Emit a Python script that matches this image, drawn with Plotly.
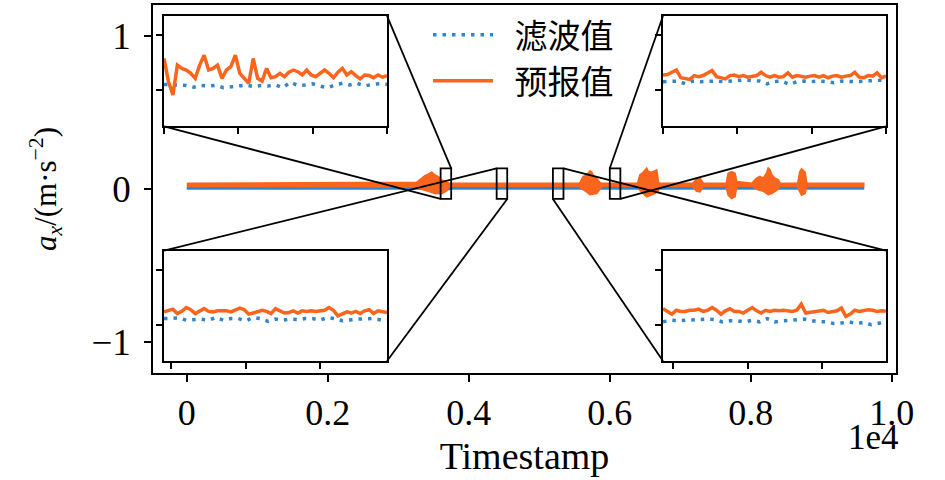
import plotly.graph_objects as go

# ---------------- data ----------------
# main-view envelope of the predicted signal (预报值): upper and lower edges
PRED_HI_T = [0, 3260, 3331, 3378, 3425, 3473, 3520, 3567, 3615, 3686, 3720,
             5560, 5577, 5624, 5672, 5719, 5742, 5766, 5813, 5860, 5880,
             6390, 6404, 6428, 6475, 6523, 6546, 6593, 6640, 6664, 6687, 6700,
             7170, 7184, 7232, 7279, 7326,
             7650, 7658, 7681, 7728, 7775, 7799,
             8020, 8035, 8083, 8130, 8177, 8225, 8248, 8272, 8296, 8343, 8390, 8414,
             8660, 8673, 8697, 8721, 8768, 8792,
             9600]
PRED_HI = [0.036, 0.043, 0.069, 0.086, 0.095, 0.108, 0.091, 0.080, 0.058, 0.045, 0.036,
           0.036, 0.040, 0.080, 0.091, 0.117, 0.108, 0.086, 0.069, 0.040, 0.036,
           0.036, 0.047, 0.091, 0.108, 0.134, 0.112, 0.108, 0.117, 0.123, 0.047, 0.036,
           0.036, 0.040, 0.064, 0.069, 0.036,
           0.036, 0.047, 0.102, 0.112, 0.102, 0.047,
           0.036, 0.047, 0.069, 0.080, 0.069, 0.102, 0.134, 0.123, 0.091, 0.069, 0.058, 0.036,
           0.036, 0.047, 0.112, 0.130, 0.108, 0.036,
           0.036]
PRED_LO_T = [0, 3260, 3331, 3425, 3520, 3615, 3686, 3720,
             5560, 5600, 5672, 5719, 5813, 5860, 5880,
             6390, 6428, 6475, 6523, 6593, 6640, 6687, 6700,
             7170, 7232, 7279, 7326,
             7650, 7681, 7728, 7775, 7799,
             8020, 8083, 8177, 8248, 8296, 8370, 8414,
             8660, 8697, 8721, 8768, 8792,
             9600]
PRED_LO = [0.020, 0.015, 0.000, -0.013, -0.028, -0.030, -0.010, 0.020,
           0.020, 0.004, -0.017, -0.035, -0.028, 0.000, 0.020,
           0.020, -0.007, -0.028, -0.050, -0.039, -0.028, -0.013, 0.020,
           0.020, -0.013, -0.017, 0.020,
           0.020, -0.039, -0.061, -0.050, 0.020,
           0.020, 0.000, -0.013, -0.035, -0.028, -0.007, 0.020,
           0.020, -0.017, -0.039, -0.028, 0.020,
           0.020]
# main-view envelope of the filtered signal (滤波值)
FILT_T = [0, 3300, 3650, 3750, 9600]
FILT_HI = [0.010, 0.010, 0.008, 0.010, 0.010]
FILT_LO = [0.000, 0.000, -0.010, 0.000, 0.000]

# zoom windows (start timestamps, width 150)
ZOOM_W = 150
TL_START, BL_START, BR_START, TR_START = 3600, 4395, 5193, 6000

TL_PRED = [0.058, 0.016, -0.008, 0.046, 0.040, 0.037, 0.031, 0.022, 0.046, 0.064,
           0.037, 0.040, 0.046, 0.022, 0.037, 0.043, 0.064, 0.031, 0.022, 0.013,
           0.058, 0.022, 0.017, 0.040, 0.023, 0.025, 0.031, 0.025, 0.033, 0.037,
           0.034, 0.028, 0.037, 0.028, 0.025, 0.032, 0.037, 0.031, 0.023, 0.033,
           0.040, 0.028, 0.034, 0.027, 0.021, 0.028, 0.027, 0.023, 0.028, 0.024, 0.027]
TL_FILT = [0.011, 0.010, 0.010, 0.009, 0.006, 0.009, 0.008, 0.009, 0.005, 0.006,
           0.008, 0.010, 0.007, 0.009, 0.008, 0.010, 0.005, 0.015, 0.009, 0.010,
           0.012, 0.008, 0.005, 0.010, 0.013, 0.010, 0.013, 0.008, 0.011, 0.012, 0.011]

BL_PRED = [0.024, 0.026, 0.029, 0.021, 0.025, 0.032, 0.028, 0.021, 0.026, 0.030,
           0.025, 0.024, 0.026, 0.026, 0.026, 0.024, 0.027, 0.031, 0.028, 0.020,
           0.022, 0.024, 0.027, 0.025, 0.021, 0.030, 0.026, 0.022, 0.023, 0.026,
           0.022, 0.026, 0.025, 0.026, 0.025, 0.026, 0.027, 0.032, 0.027, 0.017,
           0.021, 0.024, 0.022, 0.025, 0.021, 0.026, 0.028, 0.021, 0.026, 0.025, 0.023]
BL_FILT = [0.012, 0.012, 0.013, 0.009, 0.010, 0.011, 0.009, 0.014, 0.009, 0.012,
           0.012, 0.008, 0.014, 0.012, 0.007, 0.011, 0.009, 0.011, 0.010, 0.012,
           0.012, 0.009, 0.014, 0.012, 0.008, 0.010, 0.011, 0.011, 0.012, 0.010, 0.009]

BR_PRED = [0.030, 0.025, 0.020, 0.027, 0.025, 0.025, 0.027, 0.027, 0.029, 0.025,
           0.027, 0.032, 0.027, 0.020, 0.026, 0.030, 0.025, 0.025, 0.022, 0.027,
           0.032, 0.026, 0.022, 0.027, 0.025, 0.027, 0.026, 0.027, 0.026, 0.025,
           0.027, 0.038, 0.022, 0.023, 0.025, 0.025, 0.027, 0.023, 0.024, 0.026,
           0.031, 0.016, 0.020, 0.027, 0.025, 0.027, 0.028, 0.027, 0.025, 0.026, 0.025]
BR_FILT = [0.006, 0.009, 0.008, 0.009, 0.009, 0.010, 0.011, 0.010, 0.006, 0.008,
           0.008, 0.006, 0.009, 0.006, 0.012, 0.006, 0.008, 0.009, 0.010, 0.011,
           0.008, 0.006, 0.006, 0.003, 0.004, 0.006, 0.003, 0.005, 0.001, 0.003, 0.006]

TR_PRED = [0.028, 0.029, 0.033, 0.037, 0.023, 0.022, 0.020, 0.027, 0.025, 0.027,
           0.031, 0.036, 0.025, 0.023, 0.021, 0.027, 0.028, 0.025, 0.027, 0.024,
           0.025, 0.027, 0.033, 0.027, 0.024, 0.027, 0.024, 0.025, 0.032, 0.024,
           0.027, 0.026, 0.024, 0.026, 0.027, 0.024, 0.027, 0.023, 0.026, 0.027,
           0.024, 0.026, 0.027, 0.033, 0.024, 0.023, 0.027, 0.026, 0.032, 0.023, 0.026]
TR_FILT = [0.016, 0.016, 0.017, 0.012, 0.017, 0.016, 0.017, 0.017, 0.016, 0.017,
           0.017, 0.019, 0.018, 0.017, 0.012, 0.016, 0.017, 0.011, 0.016, 0.017,
           0.016, 0.017, 0.016, 0.014, 0.017, 0.016, 0.016, 0.017, 0.018, 0.019, 0.019]

NAME_FILT = "滤波值"
NAME_PRED = "预报值"
X_TICKS = [0, 2000, 4000, 6000, 8000, 10000]
X_TICKTEXT = ["0", "0.2", "0.4", "0.6", "0.8", "1.0"]
Y_TICKS = [-1, 0, 1]
Y_TICKTEXT = ["\u22121", "0", "1"]

# ---------------- styling / layout ----------------
BLUE = "#2f86cf"
ORANGE = "#fa651e"
SERIF = "Liberation Serif"
CJK = "Noto Sans CJK SC"
XR = [-480, 10060]
YR = [-1.2, 1.2]
INSET_YR = [-0.065, 0.135]
DOT = "3.5px,6px"
LEG_PAD = "\u2002"  # small gap between legend sample and its label

fig = go.Figure()

# main view: envelopes drawn as filled bands
fig.add_trace(go.Scatter(
    x=FILT_T + FILT_T[::-1], y=FILT_HI + FILT_LO[::-1], fill="toself",
    mode="lines", line=dict(color=BLUE, width=1.5), fillcolor=BLUE,
    showlegend=False, hoverinfo="skip", xaxis="x", yaxis="y"))
fig.add_trace(go.Scatter(
    x=PRED_HI_T + PRED_LO_T[::-1], y=PRED_HI + PRED_LO[::-1], fill="toself",
    mode="lines", line=dict(color=ORANGE, width=2), fillcolor=ORANGE,
    showlegend=False, hoverinfo="skip", xaxis="x", yaxis="y"))

L_PX, R_PX, T_PX, B_PX = 153, 896, 3, 373
W_PX, H_PX = R_PX - L_PX, B_PX - T_PX

def dom_x(a, b):
    return [(a - L_PX) / W_PX, (b - L_PX) / W_PX]

def dom_y(top, bot):
    return [(B_PX - bot) / H_PX, (B_PX - top) / H_PX]

insets = [
    # start, pred, filt, x-domain, y-domain, connected corners
    (TL_START, TL_PRED, TL_FILT, dom_x(164, 387), dom_y(14, 125), ("ur", "ll")),
    (BL_START, BL_PRED, BL_FILT, dom_x(164, 387), dom_y(250, 361), ("ul", "lr")),
    (BR_START, BR_PRED, BR_FILT, dom_x(663, 886), dom_y(250, 361), ("ur", "ll")),
    (TR_START, TR_PRED, TR_FILT, dom_x(663, 886), dom_y(14, 125), ("ul", "lr")),
]

axis_common = dict(showgrid=False, zeroline=False, showline=True, linecolor="black",
                   linewidth=1.8, mirror=True, ticks="outside", ticklen=6,
                   tickwidth=1.5, tickcolor="black", showticklabels=False)

shapes = []

def to_data_x(f):
    return XR[0] + f * (XR[1] - XR[0])

def to_data_y(f):
    return YR[0] + f * (YR[1] - YR[0])

for i, (start, pred, filt, dx, dy, corners) in enumerate(insets):
    n = i + 2
    xa, ya = f"x{n}", f"y{n}"
    t_pred = list(range(start, start + ZOOM_W + 1, 3))
    t_filt = list(range(start, start + ZOOM_W + 1, 5))
    fig.add_trace(go.Scatter(x=t_filt, y=filt, mode="lines", name=LEG_PAD + NAME_FILT,
                             line=dict(color=BLUE, width=3.5, dash=DOT),
                             showlegend=(i == 0), xaxis=xa, yaxis=ya))
    fig.add_trace(go.Scatter(x=t_pred, y=pred, mode="lines", name=LEG_PAD + NAME_PRED,
                             line=dict(color=ORANGE, width=3.5),
                             showlegend=(i == 0), xaxis=xa, yaxis=ya))
    fig.layout[f"xaxis{n}"] = dict(axis_common, domain=dx, anchor=ya,
                                   range=[start, start + ZOOM_W],
                                   tickmode="linear", tick0=0, dtick=50)
    fig.layout[f"yaxis{n}"] = dict(axis_common, domain=dy, anchor=xa,
                                   range=INSET_YR, tickmode="linear", tick0=0, dtick=0.1)
    # zoom rectangle in main view
    rx0, rx1 = start, start + ZOOM_W
    ry0, ry1 = INSET_YR
    shapes.append(dict(type="rect", xref="x", yref="y", x0=rx0, x1=rx1, y0=ry0, y1=ry1,
                       line=dict(color="black", width=1.8), layer="above"))
    # inset corners expressed in main-axis data coordinates
    ix0, ix1 = to_data_x(dx[0]), to_data_x(dx[1])
    iy0, iy1 = to_data_y(dy[0]), to_data_y(dy[1])
    inset_c = {"ul": (ix0, iy1), "ur": (ix1, iy1), "ll": (ix0, iy0), "lr": (ix1, iy0)}
    rect_c = {"ul": (rx0, ry1), "ur": (rx1, ry1), "ll": (rx0, ry0), "lr": (rx1, ry0)}
    for c in corners:
        (ax_, ay_), (bx_, by_) = inset_c[c], rect_c[c]
        shapes.append(dict(type="line", xref="x", yref="y", x0=ax_, y0=ay_, x1=bx_, y1=by_,
                           line=dict(color="black", width=1.8), layer="above"))

fig.update_layout(
    width=945, height=480,
    margin=dict(l=L_PX, r=945 - R_PX, t=T_PX, b=480 - B_PX),
    plot_bgcolor="white", paper_bgcolor="white",
    font=dict(family=SERIF, color="black"),
    xaxis=dict(domain=[0, 1], range=XR, showgrid=False, zeroline=False,
               showline=True, linecolor="black", linewidth=1.6, mirror=True,
               ticks="outside", ticklen=7, tickwidth=1.6, tickcolor="black",
               tickmode="array", tickvals=X_TICKS, ticktext=X_TICKTEXT,
               tickfont=dict(family=SERIF, size=36, color="black"),
               title=dict(text="Timestamp", font=dict(family=SERIF, size=38, color="black"),
                          standoff=10)),
    yaxis=dict(domain=[0, 1], range=YR, showgrid=False, zeroline=False,
               showline=True, linecolor="black", linewidth=1.6, mirror=True,
               ticks="outside", ticklen=7, tickwidth=1.6, tickcolor="black",
               tickmode="array", tickvals=Y_TICKS, ticktext=Y_TICKTEXT,
               ticklabelstandoff=6,
               tickfont=dict(family=SERIF, size=37, color="black"),
               title=dict(text="<i>a</i><sub><i>x</i></sub>/(m·s<sup>\u22122</sup>)",
                          font=dict(family=SERIF, size=31, color="black"), standoff=26)),
    legend=dict(x=(428 - L_PX) / W_PX, y=0.995, xanchor="left", yanchor="top",
                bgcolor="rgba(0,0,0,0)", itemwidth=60, tracegroupgap=0,
                font=dict(family=CJK, size=33, color="black")),
    shapes=shapes,
    annotations=[dict(text="1e4", xref="paper", yref="paper", x=1.0, y=-0.175,
                      xanchor="right", yanchor="middle", showarrow=False, xshift=5,
                      font=dict(family=SERIF, size=35, color="black"))],
)

fig.write_html("out.html", config={"displayModeBar": False},
               post_script="document.body.style.margin='0px';")
